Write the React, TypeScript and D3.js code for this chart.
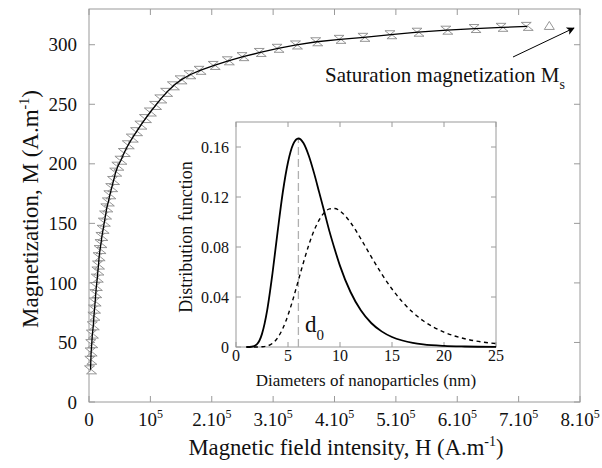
import React from "react";
import * as d3 from "d3";

// Main curve: magnetization M (A/m) vs field H (units of 1e5 A/m)
const fieldH = [
  0.025, 0.03, 0.035, 0.045, 0.055, 0.07, 0.08, 0.09, 0.1, 0.11, 0.12, 0.135, 0.145, 0.155,
  0.165, 0.18, 0.195, 0.21, 0.23, 0.25, 0.27, 0.29, 0.315, 0.34, 0.37, 0.4, 0.435, 0.47,
  0.52, 0.575, 0.64, 0.705, 0.775, 0.845, 0.92, 1.0, 1.085, 1.17, 1.265, 1.375, 1.5, 1.645,
  1.81, 2.04, 2.27, 2.51, 2.79, 3.08, 3.38, 3.71, 4.09, 4.48, 4.92, 5.36, 5.83, 6.29, 6.73,
  7.14,
];
const magM = [
  27, 35, 42, 49, 57, 64, 72, 78, 84, 91, 97, 104, 110, 115, 122, 128, 133, 139, 145, 151,
  157, 163, 168, 174, 180, 186, 193, 198, 203, 209.5, 216, 221.6, 227, 232.5, 238, 243.5,
  249, 254.5, 260, 265.5, 270.5, 274.8, 278.5, 282.6, 286.5, 290, 293.5, 297, 299.8, 302.5,
  304.5, 306.2, 308.4, 310.5, 312.2, 313.6, 314.6, 315.4,
];
// Extra experimental point near saturation
const extraH = [7.5];
const extraM = [316.2];

// Inset: size distribution functions
const diam = [1, 1.5, 2, 2.5, 3, 3.5, 4, 4.5, 5, 5.5, 6, 6.5, 7, 7.5, 8, 8.5, 9, 9.5, 10, 11, 12, 13, 14, 15, 16, 17, 18, 20, 22, 25];
const distSolid = [0, 0.0002, 0.0021, 0.0105, 0.0295, 0.0584, 0.0921, 0.1238, 0.1478, 0.1623, 0.1668, 0.163, 0.153, 0.1393, 0.1237, 0.108, 0.0921, 0.078, 0.0649, 0.0442, 0.0294, 0.0192, 0.0125, 0.008, 0.0052, 0.0033, 0.0021, 0.0009, 0.0004, 0.0001];
const distDashed = [0, 0, 0.00003, 0.0002, 0.0008, 0.0029, 0.0073, 0.0148, 0.0255, 0.0387, 0.0534, 0.068, 0.0816, 0.093, 0.1017, 0.1076, 0.1105, 0.1108, 0.1088, 0.0997, 0.0866, 0.0723, 0.0586, 0.0464, 0.0361, 0.0277, 0.021, 0.0119, 0.0066, 0.0027];
const d0 = 6;

const mainXTicks = [0, 1, 2, 3, 4, 5, 6, 7, 8];
const mainYTicks = [0, 50, 100, 150, 200, 250, 300];
const insetXTicks = [0, 5, 10, 15, 20, 25];
const insetYTicks = [0, 0.04, 0.08, 0.12, 0.16];

const FONT = "'Liberation Serif', 'Times New Roman', serif";
const FRAME = "#9a9a9a";

export default function App() {
  const x = d3.scaleLinear().domain([0, 8]).range([89, 580]);
  const y = d3.scaleLinear().domain([0, 330]).range([402, 9]);
  const ix = d3.scaleLinear().domain([0, 25]).range([236, 496]);
  const iy = d3.scaleLinear().domain([0, 0.18]).range([347, 122]);

  const pts = fieldH.map((h, i) => [h, magM[i]] as [number, number]);
  const mainLine = d3.line<[number, number]>().x((d) => x(d[0])).y((d) => y(d[1]))(pts) || "";

  const solidPts = diam.map((d, i) => [d, distSolid[i]] as [number, number]);
  const dashPts = diam.map((d, i) => [d, distDashed[i]] as [number, number]);
  const il = d3
    .line<[number, number]>()
    .x((d) => ix(d[0]))
    .y((d) => iy(d[1]))
    .curve(d3.curveMonotoneX);

  const tw = 10;
  const th = 4;
  const down = (cx: number, cy: number) =>
    `M${cx - tw / 2},${cy - th} L${cx + tw / 2},${cy - th} L${cx},${cy} Z`;
  const up = (cx: number, cy: number) =>
    `M${cx - tw / 2},${cy + th} L${cx + tw / 2},${cy + th} L${cx},${cy} Z`;
  const upFull = (cx: number, cy: number) =>
    `M${cx - tw / 2},${cy + 4} L${cx + tw / 2},${cy + 4} L${cx},${cy - 4} Z`;

  const xLabel = (v: number) => {
    if (v === 0) return <>0</>;
    if (v === 1)
      return (
        <>
          10<tspan dy={-8} fontSize={12}>5</tspan>
        </>
      );
    return (
      <>
        {v}.10<tspan dy={-8} fontSize={12}>5</tspan>
      </>
    );
  };

  const tl = 6;
  const [mx0, mx1] = x.range();
  const [my0, my1] = y.range();
  const [ix0, ix1] = ix.range();
  const [iy0, iy1] = iy.range();

  return (
    <svg width={602} height={468} style={{ position: "absolute", left: 0, top: 0, background: "#fff" }} fontFamily={FONT}>
      <defs>
        <marker id="arrow" viewBox="0 0 10 10" refX="9" refY="5" markerWidth="11" markerHeight="8" orient="auto" markerUnits="userSpaceOnUse">
          <path d="M0,0 L10,5 L0,10 L2.5,5 Z" fill="#000" />
        </marker>
      </defs>
      <rect x={0} y={0} width={602} height={468} fill="#fff" />

      {/* Main frame */}
      <rect x={mx0} y={my1} width={mx1 - mx0} height={my0 - my1} fill="none" stroke={FRAME} strokeWidth={1} />
      {mainXTicks.map((t) => (
        <g key={"mx" + t}>
          <line x1={x(t)} x2={x(t)} y1={my0} y2={my0 - tl} stroke={FRAME} />
          <line x1={x(t)} x2={x(t)} y1={my1} y2={my1 + tl} stroke={FRAME} />
          <text x={x(t)} y={426} textAnchor="middle" fontSize={19} fill="#111">
            {xLabel(t)}
          </text>
        </g>
      ))}
      {mainYTicks.map((t) => (
        <g key={"my" + t}>
          <line x1={mx0} x2={mx0 + tl} y1={y(t)} y2={y(t)} stroke={FRAME} />
          <line x1={mx1} x2={mx1 - tl} y1={y(t)} y2={y(t)} stroke={FRAME} />
          <text x={77} y={y(t)} dy="0.35em" textAnchor="end" fontSize={19} fill="#111">
            {t}
          </text>
        </g>
      ))}

      {/* Main markers */}
      {pts.map((p, i) => (
        <g key={"pm" + i} fill="#fff" stroke="#8a8a8a" strokeWidth={0.9}>
          <path d={down(x(p[0]) - 1, y(p[1]))} />
          <path d={up(x(p[0]) + 1, y(p[1]))} />
        </g>
      ))}
      {extraH.map((h, i) => (
        <path key={"ex" + i} d={upFull(x(h), y(extraM[i]))} fill="#fff" stroke="#8a8a8a" strokeWidth={0.9} />
      ))}
      <path d={mainLine} fill="none" stroke="#000" strokeWidth={1.3} />

      {/* Saturation annotation */}
      <line x1={513} y1={57} x2={574} y2={28} stroke="#000" strokeWidth={1} markerEnd="url(#arrow)" />
      <text x={325} y={82} fontSize={21} fill="#111">
        Saturation magnetization M<tspan dy={7} fontSize={14}>s</tspan>
      </text>

      {/* Axis titles */}
      <text transform="translate(38,209) rotate(-90)" textAnchor="middle" fontSize={23} fill="#111">
        Magnetization, M (A.m<tspan dy={-9} fontSize={14}>-1</tspan>
        <tspan dy={9}>)</tspan>
      </text>
      <text x={346} y={455} textAnchor="middle" fontSize={22.7} fill="#111">
        Magnetic field intensity, H (A.m<tspan dy={-9} fontSize={14}>-1</tspan>
        <tspan dy={9}>)</tspan>
      </text>

      {/* Inset */}
      <rect x={ix0} y={iy1} width={ix1 - ix0} height={iy0 - iy1} fill="#fff" stroke={FRAME} strokeWidth={1} />
      {insetXTicks.map((t) => (
        <g key={"ix" + t}>
          <line x1={ix(t)} x2={ix(t)} y1={iy0} y2={iy0 - 5} stroke={FRAME} />
          <line x1={ix(t)} x2={ix(t)} y1={iy1} y2={iy1 + 5} stroke={FRAME} />
          <text x={ix(t)} y={361} textAnchor="middle" fontSize={16} fill="#111">
            {t}
          </text>
        </g>
      ))}
      {insetYTicks.map((t) => (
        <g key={"iy" + t}>
          <line x1={ix0} x2={ix0 + 5} y1={iy(t)} y2={iy(t)} stroke={FRAME} />
          <line x1={ix1} x2={ix1 - 5} y1={iy(t)} y2={iy(t)} stroke={FRAME} />
          <text x={229} y={iy(t)} dy="0.35em" textAnchor="end" fontSize={16} fill="#111">
            {t === 0 ? "0" : t.toFixed(2)}
          </text>
        </g>
      ))}
      <line x1={ix(d0)} x2={ix(d0)} y1={iy0} y2={iy(0.1668)} stroke="#b0b0b0" strokeWidth={1.3} strokeDasharray="8,4" />
      <path d={il(dashPts) || ""} fill="none" stroke="#000" strokeWidth={1.4} strokeDasharray="4,3.5" />
      <path d={il(solidPts) || ""} fill="none" stroke="#000" strokeWidth={1.8} />
      <text x={305} y={332} fontSize={23} fill="#111">
        d<tspan dy={8} fontSize={15}>0</tspan>
      </text>
      <text transform="translate(192,237) rotate(-90)" textAnchor="middle" fontSize={18} fill="#111">
        Distribution function
      </text>
      <text x={366} y={386} textAnchor="middle" fontSize={17} fill="#111">
        Diameters of nanoparticles (nm)
      </text>
    </svg>
  );
}
